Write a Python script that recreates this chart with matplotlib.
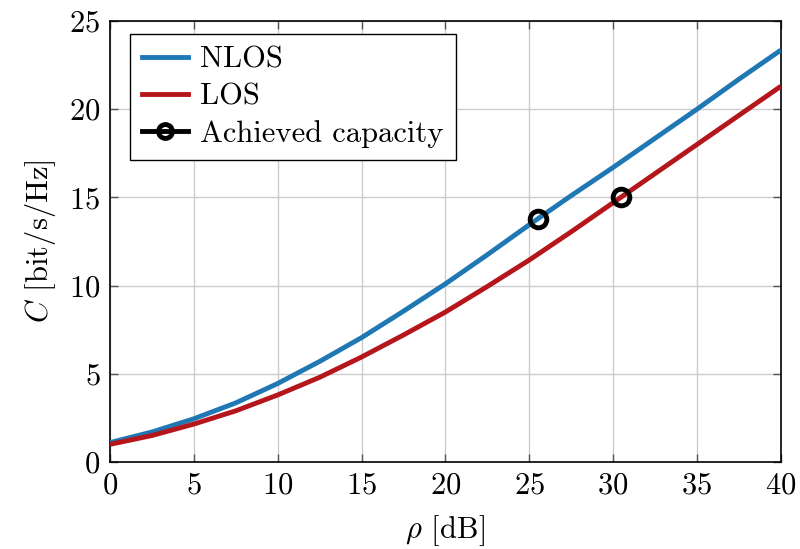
import matplotlib
matplotlib.use("Agg")
import matplotlib.pyplot as plt
from matplotlib.lines import Line2D

plt.rcParams['font.family'] = 'serif'
plt.rcParams['font.serif'] = ['cmr10']
plt.rcParams['mathtext.fontset'] = 'cm'
plt.rcParams['axes.formatter.use_mathtext'] = True

# values
rho = [0, 2.5, 5, 7.5, 10, 12.5, 15, 17.5, 20, 22.5, 25, 27.5, 30, 32.5, 35, 37.5, 40]
cap_nlos = [1.1, 1.7, 2.45, 3.35, 4.45, 5.7, 7.05, 8.55, 10.1, 11.75, 13.45, 15.1, 16.7,
            18.35, 20.0, 21.7, 23.35]
cap_los = [1.0, 1.5, 2.15, 2.9, 3.8, 4.8, 5.95, 7.2, 8.5, 9.95, 11.45, 13.05, 14.7,
           16.35, 18.0, 19.65, 21.3]
achieved_rho = [25.5, 30.5]
achieved_cap = [13.8, 15.05]

blue = '#1f78b4'
red = '#b5161c'
fs = 22

fig = plt.figure(figsize=(8, 5.49), dpi=100)
ax = fig.add_axes([0.1375, 0.1585, 0.976 - 0.1375, 0.9617 - 0.1585])

ax.plot(rho, cap_nlos, color=blue, lw=3.5, solid_capstyle='butt', zorder=3)
ax.plot(rho, cap_los, color=red, lw=3.5, solid_capstyle='butt', zorder=3)
ax.plot(achieved_rho, achieved_cap, ls='none', marker='o', ms=12, mfc='none',
        mec='black', mew=3.5, zorder=4)

ax.set_xlim(0, 40)
ax.set_ylim(0, 25)
ax.set_xticks(range(0, 41, 5))
ax.set_yticks(range(0, 26, 5))
ax.grid(True, color='#cccccc', lw=1)
ax.set_axisbelow(True)
ax.tick_params(direction='in', top=True, right=True, length=6, width=1,
               labelsize=fs, color='#555555', pad=7)
for s in ax.spines.values():
    s.set_linewidth(1.2)

ax.set_xlabel(r'$\rho$ [dB]', fontsize=fs, labelpad=10)
ax.set_ylabel(r'$C$ [bit/s/Hz]', fontsize=fs, labelpad=8)

handles = [Line2D([], [], color=blue, lw=3.5),
           Line2D([], [], color=red, lw=3.5),
           Line2D([], [], color='black', lw=3.5, marker='o', ms=10, mfc='none', mew=3.5)]
leg = ax.legend(handles, ['NLOS', 'LOS', 'Achieved capacity'], loc='upper left',
                bbox_to_anchor=(0.03, 0.97), fontsize=fs, fancybox=False,
                edgecolor='black', framealpha=1, handlelength=1.5,
                borderpad=0.4, labelspacing=0.3, handletextpad=0.4,
                borderaxespad=0)
leg.get_frame().set_linewidth(1)

fig.savefig('out.png', dpi=100)
